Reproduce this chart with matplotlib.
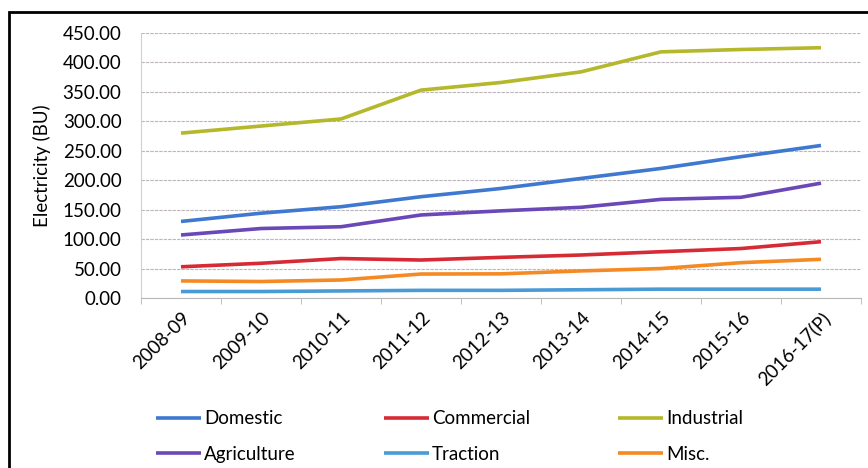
import numpy as np
import matplotlib.pyplot as plt
from matplotlib.patches import Rectangle

plt.rcParams['font.family'] = ['Lato', 'DejaVu Sans']

years = ['2008-09', '2009-10', '2010-11', '2011-12', '2012-13',
         '2013-14', '2014-15', '2015-16', '2016-17(P)']

domestic = [130, 144, 155, 172, 186, 203, 220, 240, 259]
commercial = [53, 59, 67, 64.5, 69, 73, 78.6, 84, 95.6]
industrial = [280, 292, 304, 353, 366, 384, 418, 422, 425]
agriculture = [107, 118, 121, 141, 148, 154, 167.5, 171, 195]
traction = [11, 11, 12, 13, 13, 14, 15, 15, 15]
misc = [29, 28, 30.6, 40.7, 41, 46, 50, 60, 65.7]

series = [('Domestic', domestic, '#3f78d0'),
          ('Commercial', commercial, '#d62b35'),
          ('Industrial', industrial, '#b5b82a'),
          ('Agriculture', agriculture, '#6a48b8'),
          ('Traction', traction, '#4a9ad6'),
          ('Misc.', misc, '#f58a25')]

fig = plt.figure(figsize=(8.68, 4.68), dpi=100)
W, H = 868, 468
ax = fig.add_axes([141 / W, 1 - 298 / H, 720 / W, 265 / H])

x = np.arange(len(years))
lines = {}
for name, vals, col in series:
    lines[name], = ax.plot(x, vals, color=col, lw=2.6, label=name, solid_capstyle='butt')

fs = 13.5
ax.set_xlim(-0.5, len(years) - 0.5)
ax.set_ylim(0, 450)
ax.set_yticks(np.arange(0, 451, 50))
ax.set_yticklabels(['%.2f' % v for v in np.arange(0, 451, 50)], fontsize=fs)
ax.set_xticks(x)
ax.set_xticklabels(years, rotation=45, ha='right', rotation_mode='anchor', fontsize=fs)
ax.set_xticks(np.arange(-0.5, len(years), 1), minor=True)
ax.tick_params(axis='x', which='major', length=0, pad=8)
ax.tick_params(axis='y', which='major', length=0, pad=14)
ax.tick_params(axis='x', which='minor', length=4, color='#b8b8b8', direction='out')
ax.grid(axis='y', color='#bdb6bd', lw=0.8, ls=(0, (3, 1)))
for s in ['top', 'right']:
    ax.spines[s].set_visible(False)
ax.spines['left'].set_color('#d0d0d0')
ax.spines['bottom'].set_color('#b8b8b8')
ax.set_ylabel('Electricity (BU)', fontsize=fs, labelpad=8)

# legend filled column-wise, so order the handles to read across rows
order = ['Domestic', 'Agriculture', 'Commercial', 'Traction', 'Industrial', 'Misc.']
ax.legend([lines[n] for n in order], order, loc='upper left', bbox_to_anchor=(-0.002, -0.36),
          ncol=3, frameon=False, fontsize=fs, handlelength=2.4, handletextpad=0.15,
          columnspacing=4.7, labelspacing=0.98)

# outer frame
fig.patches.append(Rectangle((9 / W, -0.1), 2, 1 - 12 / H + 0.1, transform=fig.transFigure,
                             fill=False, ec='black', lw=2))

fig.savefig('out.png', dpi=100)
